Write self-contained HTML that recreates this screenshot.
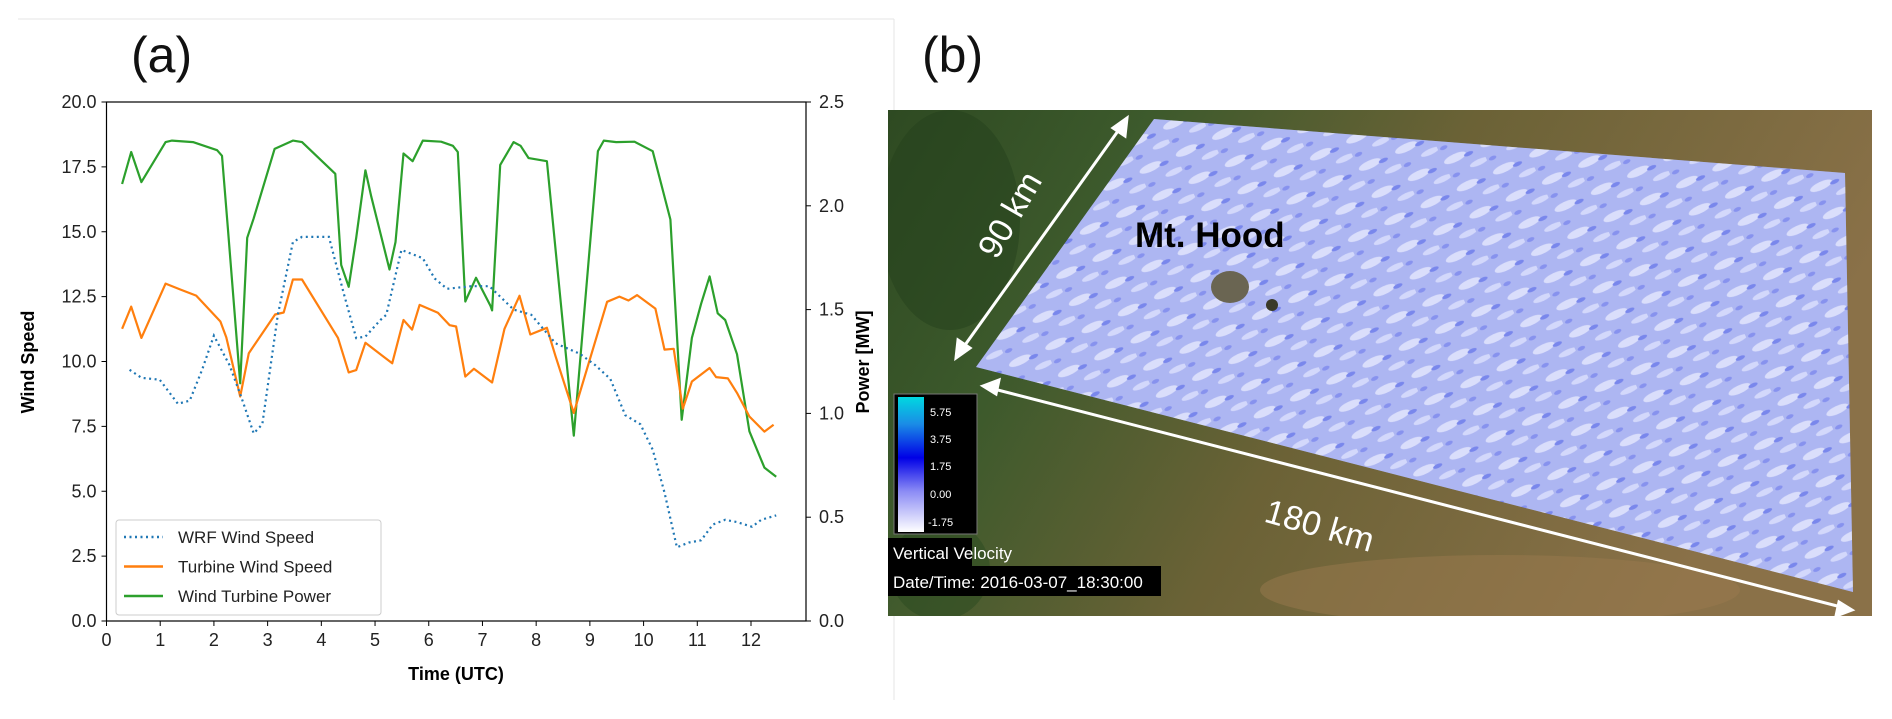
<!DOCTYPE html>
<html><head><meta charset="utf-8"><style>
html,body{margin:0;padding:0;background:#fff;}
body{width:1892px;height:714px;position:relative;overflow:hidden;font-family:"Liberation Sans",sans-serif;}
</style></head><body>
<svg id="fig" width="1892" height="714" viewBox="0 0 1892 714" xmlns="http://www.w3.org/2000/svg">
  <defs>
    <linearGradient id="sat" x1="0" y1="0" x2="1" y2="0.3">
      <stop offset="0" stop-color="#2e4a22"/>
      <stop offset="0.25" stop-color="#3d5a2c"/>
      <stop offset="0.55" stop-color="#6b6236"/>
      <stop offset="1" stop-color="#8a7148"/>
    </linearGradient>
    <linearGradient id="cbar" x1="0" y1="1" x2="0" y2="0">
      <stop offset="0" stop-color="#ffffff"/>
      <stop offset="0.3" stop-color="#8c8cf5"/>
      <stop offset="0.55" stop-color="#0000e6"/>
      <stop offset="0.8" stop-color="#1a8ce6"/>
      <stop offset="1" stop-color="#00d8e0"/>
    </linearGradient>
    <pattern id="waves" width="40" height="30" patternUnits="userSpaceOnUse" patternTransform="rotate(-25)">
      <rect width="40" height="30" fill="#aab2f2"/>
      <ellipse cx="12" cy="8" rx="12" ry="4" fill="#eef0ff"/>
      <ellipse cx="32" cy="22" rx="10" ry="3" fill="#e4e7ff"/>
      <ellipse cx="26" cy="10" rx="5" ry="2" fill="#5a6ae8"/>
      <ellipse cx="6" cy="24" rx="4" ry="2" fill="#6f7cec"/>
    </pattern>
    <clipPath id="mapclip"><rect x="888" y="110" width="984" height="506"/></clipPath>
  </defs>
  <g>
    <line x1="18" y1="19" x2="894" y2="19" stroke="#e6e6e6" stroke-width="1"/>
    <line x1="894" y1="19" x2="894" y2="700" stroke="#e6e6e6" stroke-width="1"/>
  </g>
  <text x="131" y="72" font-size="50" fill="#111">(a)</text>
  <text x="922" y="72" font-size="50" fill="#111">(b)</text>

  <g id="chart"></g>

  <g clip-path="url(#mapclip)">
    <rect x="888" y="110" width="984" height="506" fill="url(#sat)"/>
    <ellipse cx="950" cy="220" rx="70" ry="110" fill="#24401c" opacity="0.5"/>
    <ellipse cx="940" cy="570" rx="50" ry="50" fill="#2a4a20" opacity="0.5"/>
    <ellipse cx="1500" cy="590" rx="240" ry="35" fill="#9a7a4e" opacity="0.5"/>
    <polygon points="1154,119 1845,173 1853,592 976,367" fill="url(#waves)"/>
    <polygon points="1154,119 1845,173 1853,592 976,367" fill="#b5bcf4" opacity="0.35"/>
    <ellipse cx="1230" cy="287" rx="19" ry="16" fill="#6a6552"/>
    <ellipse cx="1272" cy="305" rx="6" ry="6" fill="#3a3a2a"/>
    <text x="1135" y="247" font-size="35" font-weight="bold" fill="#000">Mt. Hood</text>
    <g stroke="#fff" stroke-width="3" fill="#fff">
      <line x1="960" y1="352" x2="1123" y2="124"/>
      <polygon points="956,358 958,340 970,348"/>
      <polygon points="1127,118 1125,136 1113,128"/>
    </g>
    <text transform="translate(1012,216) rotate(-60)" text-anchor="middle" dominant-baseline="middle" font-size="34" fill="#fff">90 km</text>
    <g stroke="#fff" stroke-width="3" fill="#fff">
      <line x1="990" y1="388" x2="1845" y2="608"/>
      <polygon points="983,386 999,380 996,394"/>
      <polygon points="1852,610 1836,616 1839,602"/>
    </g>
    <text transform="translate(1319,528) rotate(16)" text-anchor="middle" dominant-baseline="middle" font-size="34" fill="#fff">180 km</text>
    <g>
      <rect x="894" y="394" width="83" height="140" fill="#000" stroke="#777"/>
      <rect x="898" y="397" width="26" height="135" fill="url(#cbar)"/>
      <g font-size="11" fill="#fff">
        <text x="930" y="416">5.75</text>
        <text x="930" y="443">3.75</text>
        <text x="930" y="470">1.75</text>
        <text x="930" y="498">0.00</text>
        <text x="928" y="526">-1.75</text>
      </g>
    </g>
    <rect x="888" y="538" width="84" height="28" fill="#000"/>
    <rect x="888" y="566" width="273" height="30" fill="#000"/>
    <text x="893" y="559" font-size="17" fill="#fff">Vertical Velocity</text>
    <text x="893" y="588" font-size="17" fill="#fff">Date/Time: 2016-03-07_18:30:00</text>
  </g>
</svg>
<script>
const xTicks = [0,1,2,3,4,5,6,7,8,9,10,11,12];
const ySpeedTicks = [0,2.5,5,7.5,10,12.5,15,17.5,20];
const yPowerTicks = [0,0.5,1.0,1.5,2.0,2.5];
const wrfTime = [0.43,0.65,0.99,1.33,1.55,1.78,2.00,2.29,2.51,2.74,2.90,3.19,3.47,3.64,4.14,4.42,4.65,4.82,5.10,5.21,5.49,5.89,6.11,6.34,6.79,7.13,7.58,7.91,8.36,8.81,9.10,9.38,9.66,9.94,10.17,10.39,10.62,10.84,11.07,11.29,11.52,11.74,12.02,12.19,12.47];
const wrfSpeed = [9.68,9.37,9.30,8.37,8.49,9.68,11.0,9.86,8.63,7.23,7.58,11.79,14.6,14.8,14.8,12.6,10.9,10.96,11.6,11.8,14.3,13.98,13.2,12.8,12.9,12.9,12.0,11.8,10.7,10.3,9.86,9.33,7.93,7.58,6.60,4.95,2.84,3.02,3.11,3.72,3.90,3.81,3.63,3.90,4.07];
const turbTime = [0.29,0.46,0.65,1.10,1.38,1.67,2.12,2.23,2.49,2.65,3.14,3.30,3.47,3.64,4.31,4.51,4.65,4.82,5.32,5.53,5.69,5.83,6.17,6.39,6.51,6.68,6.84,7.18,7.41,7.69,7.89,8.20,8.36,8.70,9.32,9.55,9.72,9.88,10.22,10.39,10.56,10.73,10.90,11.23,11.35,11.57,11.74,11.97,12.25,12.42];
const turbSpeed = [11.26,12.11,10.91,13.0,12.77,12.54,11.54,10.93,8.65,10.32,11.81,11.89,13.16,13.16,10.91,9.58,9.67,10.72,9.93,11.6,11.23,12.18,11.88,11.4,11.35,9.42,9.72,9.19,11.26,12.53,11.04,11.3,10.21,8.02,12.3,12.5,12.35,12.56,12.04,10.46,10.49,8.18,9.23,9.75,9.4,9.35,8.79,7.88,7.30,7.56];
const powerTime = [0.29,0.46,0.65,1.10,1.22,1.61,2.06,2.15,2.26,2.49,2.62,2.74,3.13,3.47,3.64,4.26,4.37,4.51,4.65,4.82,4.93,5.27,5.38,5.53,5.70,5.89,6.23,6.45,6.54,6.68,6.88,7.15,7.18,7.33,7.58,7.71,7.86,8.20,8.70,9.15,9.26,9.49,9.83,10.17,10.50,10.71,10.90,11.07,11.23,11.38,11.52,11.74,11.97,12.25,12.47];
const powerMW = [2.105,2.259,2.114,2.307,2.314,2.307,2.268,2.241,1.89,1.145,1.846,1.94,2.274,2.314,2.307,2.154,1.715,1.61,1.846,2.171,2.044,1.693,1.825,2.252,2.215,2.314,2.309,2.289,2.259,1.539,1.653,1.518,1.496,2.197,2.307,2.289,2.230,2.215,0.893,2.263,2.314,2.307,2.309,2.263,1.934,0.969,1.364,1.528,1.660,1.482,1.450,1.285,0.914,0.739,0.695];

const L=106.5, R=806, T=102, B=621;
const xS = t => L + t*(751-106.5)/12;
const yS = v => B - v*(B-T)/20;
const yP = p => B - p*(B-T)/2.5;
const NS='http://www.w3.org/2000/svg';
const chart=document.getElementById('chart');
function mk(tag, attrs, parent){const e=document.createElementNS(NS,tag);for(const k in attrs)e.setAttribute(k,attrs[k]);(parent||chart).appendChild(e);return e;}

const frame=mk('rect',{x:L,y:T,width:R-L,height:B-T,fill:'none',stroke:'#000','stroke-width':1.2});



xTicks.forEach(t=>{
  const x=xS(t);
  const tk=mk('line',{x1:x,y1:B,x2:x,y2:B+5,stroke:'#000'});
  
  
  const lb=mk('text',{x:x,y:B+25,'text-anchor':'middle','font-size':18,fill:'#222'});
  lb.textContent=t;
  
  
});
ySpeedTicks.forEach(v=>{
  const y=yS(v);
  const tk=mk('line',{x1:L-5,y1:y,x2:L,y2:y,stroke:'#000'});
  
  
  const lb=mk('text',{x:L-10,y:y+6,'text-anchor':'end','font-size':18,fill:'#222'});
  lb.textContent=v.toFixed(1);
  
  
});
yPowerTicks.forEach(p=>{
  const y=yP(p);
  const tk=mk('line',{x1:R,y1:y,x2:R+5,y2:y,stroke:'#000'});
  
  
  const lb=mk('text',{x:R+13,y:y+6,'text-anchor':'start','font-size':18,fill:'#222'});
  lb.textContent=p.toFixed(1);
  
  
});
const xt=mk('text',{x:456,y:680,'text-anchor':'middle','font-size':18,'font-weight':'bold',fill:'#000'});
xt.textContent='Time (UTC)';


const yt=mk('text',{transform:'translate(34,362) rotate(-90)','text-anchor':'middle','font-size':18,'font-weight':'bold',fill:'#000'});
yt.textContent='Wind Speed';


const yt2=mk('text',{transform:'translate(869,362) rotate(-90)','text-anchor':'middle','font-size':18,'font-weight':'bold',fill:'#000'});
yt2.textContent='Power [MW]';



function pathOf(xs,ys,fy){return xs.map((t,i)=>(i?'L':'M')+xS(t).toFixed(1)+','+fy(ys[i]).toFixed(1)).join(' ');}
const pw=mk('path',{d:pathOf(powerTime,powerMW,yP),fill:'none',stroke:'#2ca02c','stroke-width':2.2,'stroke-linejoin':'round'});


const ts=mk('path',{d:pathOf(turbTime,turbSpeed,yS),fill:'none',stroke:'#ff7f0e','stroke-width':2.2,'stroke-linejoin':'round'});


const wr=mk('path',{d:pathOf(wrfTime,wrfSpeed,yS),fill:'none',stroke:'#1f77b4','stroke-width':2.2,'stroke-dasharray':'2 3.5'});



const lg=mk('g',{});


mk('rect',{x:116,y:520,width:265,height:95,rx:3,fill:'#fff','fill-opacity':0.85,stroke:'#ccc'},lg);
const entries=[['WRF Wind Speed','#1f77b4','2 3.5'],['Turbine Wind Speed','#ff7f0e',''],['Wind Turbine Power','#2ca02c','']];
entries.forEach((e,i)=>{
  const y=537+i*29.5;
  const ln=mk('line',{x1:124,y1:y,x2:163,y2:y,stroke:e[1],'stroke-width':2.4,'stroke-dasharray':e[2]},lg);
  
  
  const tx=mk('text',{x:178,y:y+6,'font-size':17,fill:'#222'},lg);
  tx.textContent=e[0];
  
  
});
</script>
</body></html>
